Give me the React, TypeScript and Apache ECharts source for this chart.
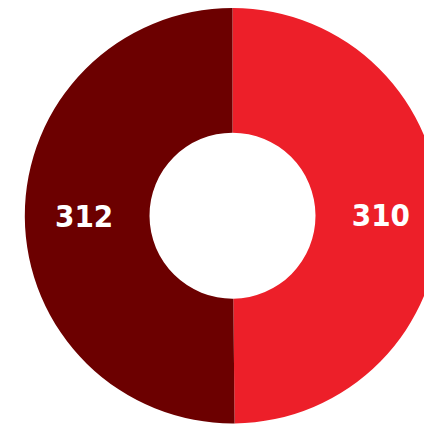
import React, { useEffect, useRef } from "react";
import * as echarts from "echarts";

const categories = ["A", "B"];
const values = [310, 312];
const colors = ["#ed1f29", "#6c0000"];

export default function App() {
  const ref = useRef<HTMLDivElement>(null);
  useEffect(() => {
    document.body.style.margin = "0";
    document.body.style.overflow = "hidden";
    if (!ref.current) return;
    const chart = echarts.init(ref.current, null, { renderer: "svg" });
    chart.setOption({
      animation: false,
      series: [
        {
          type: "pie",
          center: [232.5, 215.7],
          radius: [83, 207.7],
          startAngle: 90,
          clockwise: true,
          label: {
            show: true,
            position: "inside",
            formatter: "{c}",
            color: "#ffffff",
            fontFamily: "'DejaVu Sans Condensed', 'Liberation Sans Narrow', sans-serif",
            fontWeight: "bold",
            fontSize: 31,
          },
          labelLine: { show: false },
          itemStyle: { borderWidth: 0 },
          emphasis: { disabled: true },
          data: categories.map((c, i) => ({
            name: c,
            value: values[i],
            itemStyle: { color: colors[i] },
          })),
        },
      ],
    });
    return () => chart.dispose();
  }, []);
  return <div ref={ref} style={{ width: 424, height: 426 }} />;
}
